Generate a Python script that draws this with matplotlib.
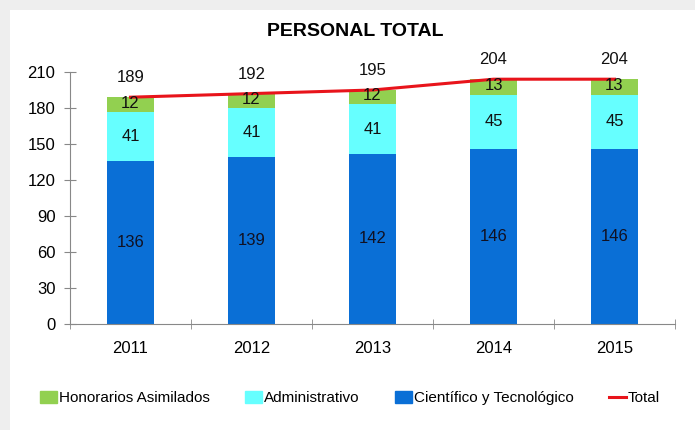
import matplotlib
matplotlib.use("Agg")
import matplotlib.pyplot as plt
from matplotlib.patches import Rectangle
from matplotlib.lines import Line2D
import numpy as np

years = ["2011", "2012", "2013", "2014", "2015"]
cientifico = [136, 139, 142, 146, 146]
administrativo = [41, 41, 41, 45, 45]
honorarios = [12, 12, 12, 13, 13]
total = [189, 192, 195, 204, 204]
yticks = [0, 30, 60, 90, 120, 150, 180, 210]

plt.rcParams["font.family"] = ["Liberation Sans", "DejaVu Sans"]
fs = 11

c_blue = "#0A6FD6"
c_cyan = "#66FFFF"
c_green = "#92D050"
c_red = "#E8141B"

fig = plt.figure(figsize=(6.95, 4.3), dpi=100)
fig.patch.set_facecolor("white")
# light grey page edge on top and left
fig.patches.append(Rectangle((0, 420 / 430), 1, 10 / 430, transform=fig.transFigure,
                             facecolor="#eeeeee", edgecolor="none", zorder=-5))
fig.patches.append(Rectangle((0, 0), 10 / 695, 1, transform=fig.transFigure,
                             facecolor="#eeeeee", edgecolor="none", zorder=-5))

ax = fig.add_axes([70 / 695, 106 / 430, 605 / 695, 252 / 430])
ax.set_facecolor("none")

x = np.arange(len(years))
w = 0.39
ax.bar(x, cientifico, w, color=c_blue, zorder=2)
ax.bar(x, administrativo, w, bottom=cientifico, color=c_cyan, zorder=2)
bot3 = np.array(cientifico) + np.array(administrativo)
ax.bar(x, honorarios, w, bottom=bot3, color=c_green, zorder=2)
ax.plot(x, total, color=c_red, lw=2.2, zorder=3)

for i in range(len(years)):
    ax.text(x[i], cientifico[i] / 2, str(cientifico[i]), ha="center", va="center",
            fontsize=fs + 1, color="#111122", zorder=4)
    ax.text(x[i], cientifico[i] + administrativo[i] / 2, str(administrativo[i]), ha="center",
            va="center", fontsize=fs + 1, color="#111111", zorder=4)
    ax.text(x[i], bot3[i] + honorarios[i] / 2 + 1, str(honorarios[i]), ha="center",
            va="center", fontsize=fs + 1, color="#111111", zorder=4)
    ax.annotate(str(total[i]), (x[i], total[i]), xytext=(0, 14), textcoords="offset points",
                ha="center", va="center", fontsize=fs + 1, color="#111111",
                annotation_clip=False)

ax.set_xlim(-0.5, len(years) - 0.5)
ax.set_ylim(0, 210)
ax.set_yticks(yticks)
ax.set_xticks(x)
ax.set_xticklabels(years)
ax.set_xticks(np.arange(-0.5, len(years), 1.0), minor=True)
ax.tick_params(axis="x", which="major", length=0, pad=12, labelsize=fs + 1)
ax.tick_params(axis="x", which="minor", length=7, direction="inout", color="#888888")
ax.tick_params(axis="y", length=9, direction="inout", color="#888888", pad=6, labelsize=fs + 1)
for s in ["top", "right"]:
    ax.spines[s].set_visible(False)
for s in ["left", "bottom"]:
    ax.spines[s].set_color("#888888")

fig.text(355 / 695, 1 - 32 / 430, "PERSONAL TOTAL", ha="center", va="center",
         fontsize=14, fontweight="bold")

handles = [Rectangle((0, 0), 1, 1, color=c_green), Rectangle((0, 0), 1, 1, color=c_cyan),
           Rectangle((0, 0), 1, 1, color=c_blue), Line2D([], [], color=c_red, lw=2.2)]
labels = ["Honorarios Asimilados", "Administrativo", "Científico y Tecnológico", "Total"]
fig.legend(handles, labels, loc="center", bbox_to_anchor=(350 / 695, 1 - 398 / 430), ncol=4,
           frameon=False, fontsize=fs, handlelength=1.1, handleheight=0.8, handletextpad=0.15,
           columnspacing=2.3)

fig.savefig("out.png", dpi=100, facecolor=fig.get_facecolor())
